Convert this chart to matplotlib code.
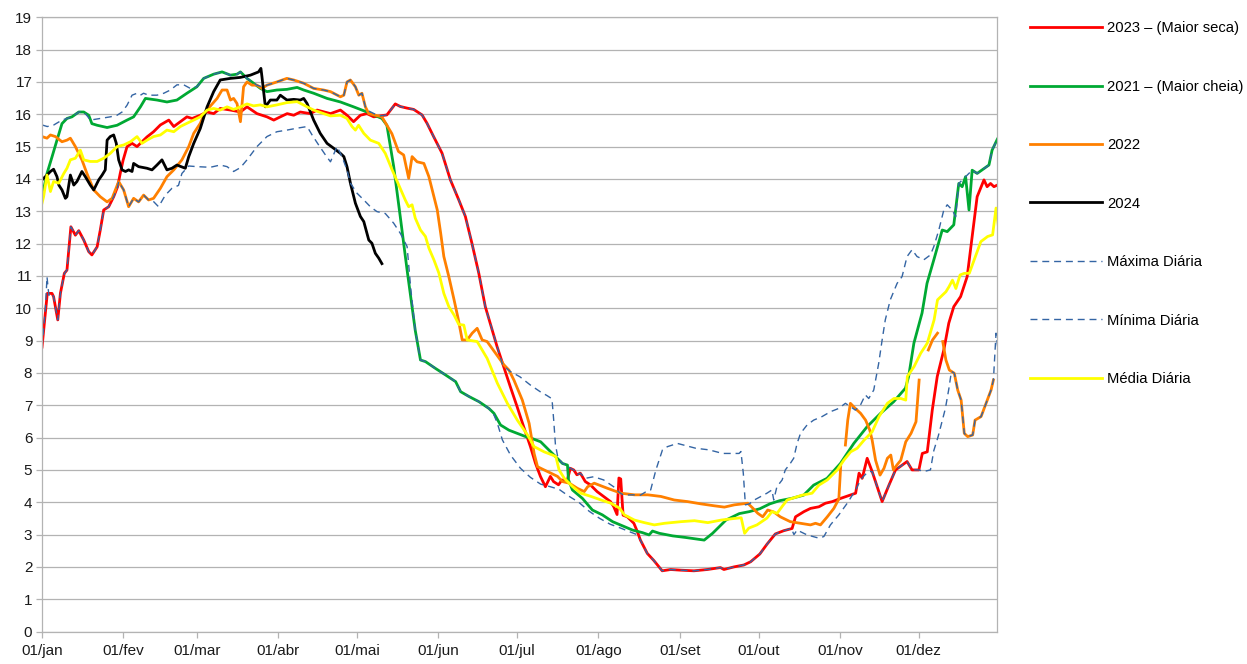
import numpy as np
import matplotlib
matplotlib.use("Agg")
import matplotlib.pyplot as plt

# day of year (0 = 01/jan) , level
red_2023 = [(0,8.8),(2,10.46),(3.8,10.46),(4.4,10.36),(6,9.64),(7,10.46),(8.5,11.08),(9.5,11.18),(11,12.52),
    (12.7,12.26),(14,12.4),(15.9,12.11),(17.8,11.75),(19,11.65),(21,11.9),(22.2,12.42),(23.5,13.04),(25.4,13.14),
    (27.3,13.45),(28.8,13.76),(29.8,14.17),(30.9,14.58),(32.4,15.0),(34.3,15.1),(36.2,15.0),(38.1,15.15),(40,15.3),
    (42.5,15.46),(45.1,15.67),(48.3,15.82),(50.2,15.62),(52.7,15.77),(55.2,15.92),(57.2,15.87),(60.3,15.97),
    (62.9,16.07),(65.4,16.02),(67.9,16.18),(71.8,16.13),(75.6,16.07),(78.1,16.23),(81.9,16.02),(85.7,15.92),
    (88.3,15.82),(90.8,15.92),(93.4,16.02),(95.9,15.97),(98.4,16.07),(102.2,16.02),(104.8,16.13),(109.9,16.02),
    (113.7,16.13),(116.2,15.97),(118.7,15.77),(121.3,15.97),(123.8,16.02),(126.4,15.92),(128.9,15.95),(131.4,15.98),
    (134.6,16.32),(136.5,16.24),(139.1,16.19),(141.6,16.15),(144.8,15.98),(146.7,15.72),(149.2,15.31),(152.4,14.8),
    (155.6,13.97),(158.8,13.35),(161.3,12.84),(163.8,12.01),(166.4,11.09),(168.9,10.05),(171.5,9.34),(173.4,8.81),
    (175.9,8.19),(178.4,7.58),(181,6.96),(183.5,6.34),(186.1,5.72),(188,5.21),(189.9,4.8),(191.8,4.48),(193.7,4.8),
    (194.9,4.64),(196.8,4.54),(198.1,4.69),(200,4.64),(201.3,5.05),(202.6,5.0),(203.8,4.85),(205.1,4.9),(207,4.64),
    (208.9,4.54),(211.5,4.33),(214,4.18),(216.6,4.02),(217.8,3.87),(219.1,3.62),(219.8,4.75),(220.5,4.72),
    (221.4,3.6),(223,3.55),(225.5,3.35),(226.8,3.1),(228,2.83),(230.6,2.42),(233.1,2.2),(235,2.01),(236.3,1.88),
    (239.5,1.92),(243.3,1.9),(248.4,1.88),(253.5,1.92),(258.5,1.98),(259.8,1.92),(263.6,2.0),(267.4,2.06),
    (270,2.16),(273.5,2.4),(276.2,2.7),(279.4,3.02),(282.6,3.12),(285.8,3.19),(287.1,3.55),(290.3,3.71),
    (292.8,3.81),(296,3.86),(298.5,3.97),(301.1,4.02),(304.3,4.12),(306.8,4.19),(310,4.28),(311.3,4.9),
    (312.5,4.74),(314.4,5.36),(316.3,4.95),(318.2,4.48),(320.1,4.02),(322.7,4.53),(325.2,5.0),(327.7,5.15),
    (329.6,5.26),(331.5,5.0),(334.1,5.0),(335.4,5.51),(337.3,5.56),(339.2,6.85),(341.1,7.89),(343.6,8.71),
    (345.5,9.54),(347.4,10.05),(350,10.36),(352.5,10.98),(354.4,12.22),(356.3,13.45),(358.9,13.97),(360.1,13.76),
    (361.4,13.86),(362.7,13.76),(364,13.81)]

green_2021 = [(0,13.45),(1.9,14.17),(3.8,14.68),(5.7,15.2),(7.6,15.71),(9.5,15.87),(11.4,15.92),(14,16.07),
    (15.9,16.07),(17.8,15.97),(19,15.71),(21,15.66),(24.8,15.59),(28.6,15.66),(32.4,15.82),(34.9,15.92),
    (37.5,16.23),(39.4,16.49),(43.8,16.44),(47.6,16.38),(51.4,16.44),(55.2,16.65),(59,16.85),(61.6,17.11),
    (65.4,17.24),(68.6,17.31),(71.8,17.21),(74.3,17.24),(75.6,17.31),(78.1,17.11),(80.6,16.96),(83.2,16.8),
    (85.7,16.7),(89.5,16.75),(93.3,16.77),(97.2,16.83),(99.7,16.75),(103.5,16.65),(108.6,16.49),(113.7,16.38),
    (118.7,16.23),(123.8,16.07),(129.5,15.87),(131.4,15.66),(134,14.38),(136.5,12.83),(139.1,11.18),(142.2,9.32),
    (144.2,8.4),(146.1,8.35),(149.9,8.14),(153.7,7.94),(157.6,7.73),(159.5,7.42),(162.7,7.27),(166.5,7.11),
    (170.3,6.9),(172.2,6.75),(174.7,6.39),(177.9,6.23),(181.1,6.13),(184.3,6.03),(186.8,5.97),(190,5.87),
    (193.2,5.61),(195.7,5.41),(198.3,5.2),(200.2,5.15),(200.6,4.69),(202.1,4.38),(205.9,4.12),(209.7,3.76),
    (213.5,3.61),(217.4,3.4),(221.2,3.27),(225,3.14),(228.8,3.06),(231.3,2.99),(232.6,3.11),(235.2,3.04),
    (240.3,2.96),(245.3,2.91),(252.3,2.83),(255.5,3.04),(260.6,3.45),(265.7,3.65),(269.5,3.71),(273.5,3.8),
    (277.3,3.95),(281.1,4.05),(285.6,4.12),(290.2,4.22),(294,4.53),(299.1,4.74),(304.2,5.2),(309.3,5.82),
    (314.4,6.34),(319.5,6.75),(324.5,7.11),(329,7.53),(330.2,7.89),(332.2,8.92),(335.3,9.85),(337.2,10.77),
    (339.8,11.5),(343,12.42),(344.9,12.37),(347.4,12.58),(349.3,13.86),(350.6,13.76),(351.9,14.07),(353.2,13.04),
    (354.4,14.27),(356.3,14.17),(358.9,14.32),(360.8,14.43),(362,14.89),(364,15.23)]

# None marks a gap in the record
orange_2022 = [(0,15.31),(1.9,15.26),(3.2,15.36),(5.1,15.31),(7.6,15.15),(9.5,15.2),(10.8,15.26),(12.7,15.0),
    (15.2,14.59),(17.1,14.17),(19.7,13.66),(22.2,13.45),(24.8,13.29),(26.7,13.4),(29.2,13.92),(31.1,13.66),
    (33,13.14),(34.9,13.4),(36.8,13.29),(38.7,13.5),(40.6,13.35),(42.5,13.4),(45.1,13.71),(47.6,14.07),
    (50.2,14.28),(53.3,14.59),(55.9,15.0),(57.8,15.41),(60.3,15.72),(62.2,16.07),(64.1,16.25),(66.7,16.49),
    (68.6,16.75),(70.5,16.75),(71.8,16.44),(73,16.49),(74.3,16.33),(75.6,15.77),(76.8,16.85),(78.1,17.0),
    (80,16.9),(81.9,16.9),(83.8,16.8),(85.7,16.9),(89.5,17.0),(93.3,17.11),(95.9,17.06),(99.7,16.96),
    (103.5,16.8),(107.3,16.75),(109.9,16.7),(113.7,16.54),(115,16.59),(116.2,17.0),(117.5,17.06),(119.4,16.85),
    (120.7,16.59),(121.9,16.65),(123.2,16.23),(124.5,16.02),(127,15.97),(129.5,15.92),(131.4,15.66),(133.3,15.4),
    (135.8,14.85),(137.8,14.74),(139.7,14.02),(141,14.69),(142.9,14.53),(145.5,14.48),(147.4,14.07),(149.3,13.45),
    (150.6,13.04),(151.9,12.32),(153.1,11.6),(155,10.98),(157,10.26),(158.5,9.7),(160.1,9.02),(162,9.02),
    (163.9,9.23),(165.8,9.38),(167.7,9.02),(169.6,8.97),(172.8,8.61),(176,8.25),(177.9,8.09),(179.8,7.78),
    (183,7.16),(185.6,6.44),(187.5,5.51),(188.8,5.1),(191.3,5.0),(193.9,4.9),(196.4,4.8),(198.3,4.64),
    (200.9,4.59),(204,4.43),(206.6,4.33),(207.9,4.48),(210.4,4.59),(215.5,4.43),(220.6,4.28),(225.7,4.23),
    (230.8,4.23),(235.8,4.18),(240.9,4.07),(246,4.02),(251.1,3.95),(256.2,3.89),(260,3.85),(263.8,3.92),
    (268.9,3.97),(270.8,3.82),(272.7,3.66),(274.6,3.55),(276.5,3.76),(278.8,3.7),(281.3,3.55),(285.1,3.4),
    (289,3.35),(292.8,3.3),(294.7,3.35),(296.6,3.3),(299.2,3.55),(301.7,3.81),(303.6,4.1),(304.3,5.1),
    (305.2,None),
    (306.1,5.77),(307,6.54),(308,7.06),(309.9,6.9),(311.9,6.75),(313.8,6.54),(315.4,6.23),(316.3,5.92),
    (317.6,5.3),(319.3,4.84),(320.8,5.05),(322.1,5.36),(323.4,5.46),(324.4,5.0),(325.7,5.15),(327.2,5.3),
    (329.1,5.87),(331.1,6.13),(333,6.49),(334.2,7.78),
    (336,None),
    (337.7,8.71),(339.3,9.02),(341.2,9.23),
    (342.2,None),
    (343.2,8.97),(344.4,8.4),(345.7,8.09),(347.6,7.99),(348.9,7.47),(350.2,7.16),(351.4,6.13),(352.7,6.03),
    (354.6,6.08),(355.5,6.54),(357.8,6.65),(359.7,7.06),(361.6,7.47),(362.5,7.78)]

black_2024 = [(0,13.97),(1.9,14.12),(3.2,14.23),(4.4,14.3),(5.7,14.07),(6.4,13.81),(7.6,13.66),(8.9,13.4),
    (9.5,13.45),(10.8,14.12),(12.1,13.81),(13.3,13.92),(15.2,14.23),(16.5,14.07),(18.4,13.81),(19.7,13.66),
    (21.6,13.97),(22.9,14.12),(24.1,14.28),(24.8,15.2),(26,15.31),(27.3,15.36),(28.3,15.1),(29.2,14.59),
    (30.5,14.28),(31.8,14.23),(33,14.28),(34.3,14.23),(34.9,14.48),(36.8,14.38),(40,14.33),(41.9,14.28),
    (43.8,14.43),(45.7,14.59),(47.6,14.28),(49.5,14.33),(51.4,14.43),(54.6,14.33),(55.9,14.69),(57.8,15.1),
    (60.3,15.56),(62.9,16.23),(65.4,16.7),(67.9,17.06),(71.8,17.11),(75.6,17.14),(79.4,17.21),(82.5,17.31),
    (83.4,17.42),(83.8,17.16),(85.1,16.23),(87,16.44),(89.5,16.44),(90.8,16.59),(93.3,16.44),(95.9,16.46),
    (98.4,16.44),(99.7,16.49),(101,16.33),(103.5,15.82),(106,15.41),(108.6,15.1),(111.1,14.95),(113.7,14.79),
    (115,14.69),(116.2,14.38),(117.5,13.87),(119.4,13.25),(121.3,12.84),(122.6,12.68),(124.5,12.11),
    (125.7,12.01),(127,11.7),(128.3,11.55),(129.5,11.38)]

maxima = [(0,15.67),(2,15.62),(4.5,15.67),(7.6,15.82),(9.5,15.87),(11.4,15.92),(14,16.07),(15.9,16.07),
    (17.2,15.95),(18.4,15.82),(22.2,15.87),(26,15.92),(28.6,15.97),(30.5,16.07),(32.4,16.28),(34.3,16.59),
    (36.2,16.65),(37.5,16.59),(38.7,16.65),(40.6,16.59),(43.8,16.59),(46.4,16.65),(48.9,16.75),(51.4,16.91),
    (54,16.91),(56.5,16.8),(59,16.85),(61.6,17.11),(65.4,17.24),(68.6,17.31),(71.8,17.21),(74.3,17.24),
    (75.6,17.31),(78.1,17.11),(80.6,16.96),(81.9,16.9),(83.8,16.85),(85.7,16.9),(89.5,17.0),(93.3,17.11),
    (95.9,17.06),(99.7,16.96),(103.5,16.8),(107.3,16.75),(109.9,16.7),(113.7,16.54),(115,16.59),(116.2,17.0),
    (117.5,17.06),(119.4,16.85),(120.7,16.59),(121.9,16.65),(123.2,16.23),(124.5,16.1),(127,16.0),(128.9,15.95),
    (131.4,15.98),(134.6,16.32),(136.5,16.24),(139.1,16.19),(141.6,16.15),(144.8,15.98),(146.7,15.72),
    (149.2,15.31),(152.4,14.8),(155.6,13.97),(158.8,13.35),(161.3,12.84),(163.8,12.01),(166.4,11.09),
    (168.9,10.05),(171.5,9.34),(173.4,8.81),(175.5,8.25),(178.3,8.05),(182.1,7.88),(186,7.63),(189.8,7.42),
    (192.4,7.3),(194.3,7.2),(195,6.5),(195.6,5.8),(196.5,5.4),(198.3,5.2),(200.2,5.15),(201.3,5.05),(202.6,5.0),
    (203.8,4.85),(205.1,4.9),(207,4.74),(210.2,4.79),(214,4.69),(217.8,4.48),(219.7,4.32),(221.6,4.22),
    (225,4.23),(228,4.22),(230,4.32),(231.9,4.38),(233.9,5.0),(236.4,5.62),(238.3,5.72),(242.1,5.82),
    (249.1,5.67),(254.2,5.62),(259.3,5.51),(265.6,5.51),(266.3,5.57),(267.2,4.9),(268,3.92),(269.5,3.95),
    (271.4,4.07),(273.7,4.17),(276.2,4.28),(278.1,4.38),(278.8,4.07),(280,4.48),(282,4.69),(283.2,5.0),
    (285.1,5.2),(286.4,5.36),(287.7,5.82),(289,6.13),(291.5,6.39),(294,6.54),(297.2,6.65),(300.4,6.8),
    (303.5,6.9),(306.1,7.06),(308,6.96),(309.9,6.85),(311.8,7.0),(313.7,7.32),(315,7.21),(316.9,7.47),
    (318.8,8.3),(320.1,9.02),(321.3,9.64),(323.2,10.26),(325.8,10.77),(327.7,10.98),(329.6,11.6),(331.5,11.81),
    (333.4,11.6),(336,11.5),(338.5,11.65),(339.8,11.91),(341.7,12.42),(343.6,13.04),(344.9,13.2),(346.8,13.04),
    (348.1,12.83),(349.3,13.86),(351.9,14.07),(354.4,14.27),(356.3,14.17),(358.9,14.32),(360.8,14.43),
    (362,14.89),(364,15.23)]

minima = [(0,8.8),(1.3,10.0),(1.9,10.97),(2.6,10.4),(3.8,10.46),(4.4,10.36),(6,9.64),(7,10.46),(8.5,11.08),
    (9.5,11.18),(11,12.52),(12.7,12.26),(14,12.4),(15.9,12.11),(17.8,11.75),(19,11.65),(21,11.9),(22.2,12.42),
    (23.5,13.04),(25.4,13.14),(27.3,13.45),(28.8,13.76),(29.2,13.92),(31.1,13.66),(33,13.14),(34.9,13.4),
    (36.8,13.29),(38.7,13.5),(40.6,13.35),(42.5,13.3),(44.4,13.14),(47,13.5),(49.5,13.71),(52,13.8),(53.3,14.17),
    (55.9,14.4),(59,14.38),(64.1,14.36),(67.9,14.43),(70.5,14.38),(73,14.23),(75.6,14.35),(78.1,14.59),
    (81.9,15.0),(85.7,15.31),(89.5,15.46),(93.3,15.51),(97.2,15.57),(101,15.62),(102.9,15.36),(105.4,15.05),
    (108,14.74),(109.9,14.53),(112.4,15.0),(114.3,14.69),(116.2,14.28),(117.5,13.87),(120,13.56),(122.6,13.35),
    (125.1,13.14),(127.6,12.99),(130.8,12.93),(134,12.63),(136.5,12.32),(139.1,11.91),(140.5,10.6),(142.2,9.32),
    (144.2,8.4),(146.1,8.35),(149.9,8.14),(153.7,7.94),(157.6,7.73),(159.5,7.42),(162.7,7.27),(166.5,7.11),
    (170.3,6.9),(172.2,6.7),(173.5,6.44),(175.4,5.93),(178.5,5.46),(182.3,5.05),(186.1,4.77),(190,4.56),
    (193.7,4.48),(197,4.4),(200.5,4.2),(204.5,4.0),(208.5,3.72),(212.5,3.5),(216.5,3.32),(220.5,3.2),
    (223.5,3.1),(227,2.99),(228,2.83),(230.6,2.42),(233.1,2.2),(235,2.01),(236.3,1.88),(239.5,1.92),(243.3,1.9),
    (248.4,1.88),(253.5,1.92),(258.5,1.98),(259.8,1.92),(263.6,2.0),(267.4,2.06),(270,2.16),(273.5,2.4),
    (276.2,2.7),(279.4,3.02),(282.6,3.12),(285.5,3.19),(286.5,3.0),(287.7,3.14),(291.5,2.99),(296,2.89),
    (297.9,2.94),(300.4,3.3),(303.6,3.61),(306.8,3.97),(310,4.38),(311.9,4.69),(313,4.8),(314.8,4.95),
    (316.3,4.95),(318.2,4.48),(320.1,4.02),(322.7,4.53),(325.2,5.0),(327.7,5.15),(329.6,5.26),(331.5,5.0),
    (334.1,5.0),(335.9,4.95),(338.5,5.0),(339.8,5.6),(341.5,6.05),(342.3,6.3),(344.2,6.9),(345.5,7.5),
    (346.5,8.05),(347.6,7.99),(348.9,7.47),(350.2,7.16),(351.4,6.13),(352.7,6.03),(354.6,6.08),(355.5,6.54),
    (357.8,6.65),(359.7,7.06),(361.6,7.47),(362.5,7.78),(363.5,9.23),(364.4,8.61)]

media = [(0,13.25),(0.6,13.45),(1.9,14.12),(3.2,13.61),(4.4,13.92),(6.4,13.87),(8.3,14.17),(9.5,14.33),
    (10.8,14.59),(12.7,14.64),(14.6,14.89),(15.9,14.59),(18.4,14.54),(21,14.54),(23.5,14.64),(26,14.79),
    (28.6,15.0),(31.1,15.05),(33.7,15.15),(36.2,15.31),(38.1,15.1),(40,15.2),(42.5,15.31),(45.1,15.36),
    (47.6,15.51),(50.2,15.46),(52.7,15.62),(55.2,15.72),(57.8,15.82),(60.3,15.92),(62.9,16.13),(65.4,16.18),
    (67.9,16.13),(70.5,16.23),(73,16.15),(75.6,16.23),(78.1,16.32),(80.6,16.26),(83.2,16.29),(85.7,16.23),
    (89.5,16.29),(93.3,16.36),(97.2,16.39),(101,16.23),(103.5,16.13),(107.3,16.02),(109.9,15.95),(113.7,15.97),
    (116.2,15.87),(118.1,15.62),(119.4,15.51),(120.6,15.66),(122.6,15.41),(125.1,15.2),(128.3,15.1),
    (130.8,14.79),(133.3,14.3),(136.5,13.7),(138.4,13.35),(139.7,13.14),(141,13.2),(142.2,12.79),(144.2,12.42),
    (146.1,12.22),(147.4,11.86),(149.3,11.5),(151.2,11.09),(153.1,10.46),(155,10.05),(157,9.79),(158.8,9.5),
    (160.7,9.48),(162,9.02),(165.8,8.97),(169.6,8.45),(173.5,7.68),(177.3,7.06),(181.1,6.54),(185,6.08),
    (187.5,5.72),(191.3,5.56),(194.5,5.46),(195.8,5.41),(197,5.0),(199,4.74),(202.2,4.48),(205.3,4.28),
    (209.2,4.18),(213,4.07),(216.8,3.97),(220,3.82),(221.9,3.61),(225.7,3.45),(229.5,3.37),(233.3,3.3),
    (237.2,3.35),(243.5,3.4),(248.6,3.43),(253.7,3.37),(258.8,3.45),(263.9,3.5),(266.4,3.52),(267.7,3.04),
    (269.3,3.2),(272.4,3.3),(276.2,3.51),(278.1,3.71),(280.1,3.66),(282,3.87),(283.9,4.07),(289.6,4.22),
    (293.4,4.28),(296,4.53),(299.2,4.69),(303,5.0),(305.5,5.3),(308.1,5.56),(310.6,5.67),(313.2,5.92),
    (316.3,6.18),(318.9,6.65),(322.1,7.06),(324.6,7.21),(327.2,7.21),(329.1,7.16),(329.7,7.89),(332.3,8.2),
    (334.8,8.61),(337.3,8.92),(339.9,9.64),(341.2,10.26),(343.1,10.41),(344.4,10.51),(345.6,10.67),
    (346.9,10.87),(348.2,10.61),(349.8,11.03),(351.4,11.08),(353.3,11.08),(355.2,11.5),(357.7,12.06),
    (360.3,12.22),(362.2,12.27),(363.5,13.1),(364.4,12.53)]

month_days = [0, 31, 59, 90, 120, 151, 181, 212, 243, 273, 304, 334]
month_labels = ["01/jan", "01/fev", "01/mar", "01/abr", "01/mai", "01/jun",
                "01/jul", "01/ago", "01/set", "01/out", "01/nov", "01/dez"]


def xy(pairs):
    d = np.array([p[0] for p in pairs], dtype=float)
    v = np.array([np.nan if p[1] is None else p[1] for p in pairs], dtype=float)
    return d, v


plt.rcParams['font.family'] = ['Liberation Sans', 'DejaVu Sans']
fig = plt.figure(figsize=(12.47, 6.64), dpi=100)
ax = fig.add_axes([0.0337, 0.0488, 0.7661, 0.9252])

grid_c = '#b3b3b3'
blue = '#3465a4'
dash = (0, (5, 3.5))

series = [
    (red_2023, '2023 \u2013 (Maior seca)', '#ff0000', '-', 2.0),
    (green_2021, '2021 \u2013 (Maior cheia)', '#00a933', '-', 2.0),
    (orange_2022, '2022', '#ff8000', '-', 2.0),
    (black_2024, '2024', '#000000', '-', 2.0),
    (maxima, 'Máxima Diária', blue, dash, 1.0),
    (minima, 'Mínima Diária', blue, dash, 1.0),
    (media, 'Média Diária', '#ffff00', '-', 2.0),
]
for pairs, label, color, ls, lw in series:
    d, v = xy(pairs)
    ax.plot(d, v, color=color, linestyle=ls, linewidth=lw, label=label)

ax.set_xlim(0, 364)
ax.set_ylim(0, 19)
ax.set_yticks(range(0, 20))
ax.set_xticks(month_days)
ax.set_xticklabels(month_labels)
ax.yaxis.grid(True, color=grid_c, linewidth=0.9)
ax.set_axisbelow(True)
for s in ax.spines.values():
    s.set_color(grid_c)
    s.set_linewidth(0.9)
ax.tick_params(axis='both', colors=grid_c, labelcolor='#1a1a1a', labelsize=11,
               length=4, width=0.9, direction='out')
ax.tick_params(axis='x', pad=5)
ax.tick_params(axis='y', pad=3)

fig.legend(loc='upper left', bbox_to_anchor=(0.826, 0.968), frameon=False,
           fontsize=10.6, handlelength=4.9, handletextpad=0.35, labelspacing=3.02,
           borderpad=0, borderaxespad=0)

fig.savefig('out.png', dpi=100)
